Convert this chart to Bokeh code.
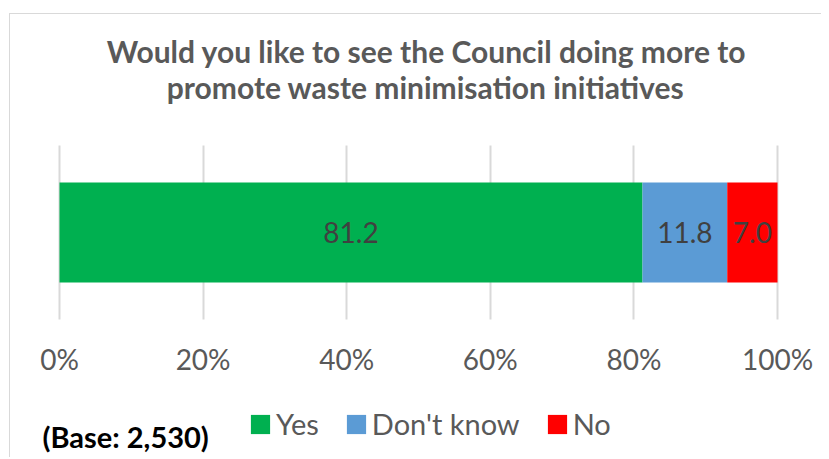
import numpy as np
from bokeh.plotting import figure
from bokeh.models import (ColumnDataSource, Range1d, FixedTicker, Label,
                          Legend, LegendItem)
from bokeh.core.properties import value
from bokeh.embed import file_html
from bokeh.resources import INLINE

# ---- data ----
categories = ["Yes", "Don't know", "No"]
values = [81.2, 11.8, 7.0]
colors = ["#00B050", "#5B9BD5", "#FF0000"]
row = ["Council"]
tick_values = [0, 20, 40, 60, 80, 100]
tick_labels = ["0%", "20%", "40%", "60%", "80%", "100%"]
title_lines = ["Would you like to see the Council doing more to",
               "promote waste minimisation initiatives"]
base_note = "(Base: 2,530)"

# ---- layout (pixels inside the figure) ----
W, H = 812, 444
PLOT_L, PLOT_R = 49, 767          # where 0% and 100% fall
BAND_T, BAND_B = 131, 305          # top / bottom of the category band
FONT = "Lato"
GREY = "#595959"

px_per_pct = (PLOT_R - PLOT_L) / 100.0
band_px = BAND_B - BAND_T
band_mid = (BAND_T + BAND_B) / 2.0
x_range = Range1d(-PLOT_L / px_per_pct, 100 + (W - PLOT_R) / px_per_pct)
y_range = Range1d(-(H - band_mid) / band_px, band_mid / band_px)

ypos = np.arange(len(row))  # one row, centred on the band
rights = np.cumsum(values)
lefts = rights - np.array(values)
src = ColumnDataSource(dict(
    cat=categories,
    y=np.repeat(ypos, len(categories)),
    left=lefts,
    right=rights,
    mid=(lefts + rights) / 2,
    lab=["%.1f" % v for v in values],
    color=colors,
))

p = figure(width=W, height=H, output_backend="svg", toolbar_location=None,
           x_range=x_range, y_range=y_range,
           min_border_left=0, min_border_right=0,
           min_border_top=0, min_border_bottom=0)
p.styles = {"position": "relative", "top": "13px", "left": "9px",
            "border-left": "1px solid #D9D9D9", "border-top": "1px solid #D9D9D9"}
p.outline_line_color = None
p.background_fill_color = "white"
p.border_fill_color = "white"

bars = p.hbar(y="y", left="left", right="right", height=0.575, color="color",
              line_color=None, source=src)

p.text(x="mid", y="y", text="lab", source=src, text_align="center",
       text_baseline="middle", text_font=value(FONT), text_font_size="28px",
       text_color="#404040")

# grid: vertical lines only across the category band
p.yaxis.visible = False
p.ygrid.grid_line_color = None
p.xgrid.ticker = FixedTicker(ticks=tick_values)
p.xgrid.grid_line_color = "#D9D9D9"
p.xgrid.grid_line_width = 2
p.xgrid.cross_bounds = (ypos[0] - 0.5, ypos[-1] + 0.5)

# x axis pinned to the bottom of the band (takes no panel room)
xa = p.xaxis[0]
xa.fixed_location = ypos[0] - 0.5
xa.ticker = FixedTicker(ticks=tick_values)
xa.major_label_overrides = {t: l for t, l in zip(tick_values, tick_labels)}
xa.axis_line_color = None
xa.major_tick_line_color = None
xa.minor_tick_line_color = None
xa.major_tick_out = 0
xa.major_tick_in = 0
xa.major_label_standoff = 22
xa.major_label_text_font = FONT
xa.major_label_text_font_size = "28px"
xa.major_label_text_color = GREY

# title lines (screen units from the frame's bottom-left)
p.add_layout(Label(x=416, y=H - 36, x_units="screen", y_units="screen",
                   text=title_lines[0], text_align="center",
                   text_baseline="alphabetic", text_font=FONT,
                   text_font_size="30px", text_font_style="bold",
                   text_color=GREY))
p.add_layout(Label(x=415, y=H - 72, x_units="screen", y_units="screen",
                   text=title_lines[1], text_align="center",
                   text_baseline="alphabetic", text_font=FONT,
                   text_font_size="30px", text_font_style="bold",
                   text_color=GREY))
# base note
p.add_layout(Label(x=32, y=22, x_units="screen", y_units="screen",
                   text=base_note, text_align="left",
                   text_baseline="alphabetic", text_font=FONT,
                   text_font_size="29px", text_font_style="bold",
                   text_color="black"))

# legend
items = [LegendItem(label=c, renderers=[bars], index=i)
         for i, c in enumerate(categories)]
legend = Legend(items=items, orientation="horizontal", location=(238, 17),
                border_line_color=None, background_fill_alpha=0,
                padding=0, margin=0, spacing=25, label_standoff=4,
                glyph_width=24, glyph_height=24, label_height=34,
                label_text_font=FONT, label_text_font_size="29px",
                label_text_color=GREY)
p.add_layout(legend, "center")

open("out.html", "w").write(file_html(p, INLINE))
